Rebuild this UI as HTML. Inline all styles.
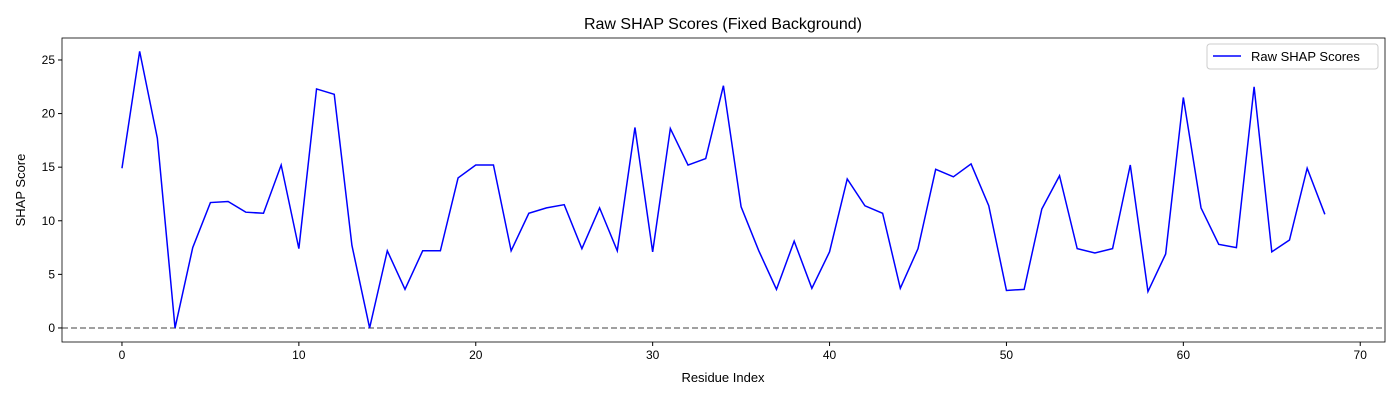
<!DOCTYPE html>
<html><head><meta charset="utf-8"><style>
body{margin:0;background:#fff;font-family:"Liberation Sans",sans-serif;}
</style></head><body>
<svg id="chart" width="1400" height="400" font-family="Liberation Sans, sans-serif"></svg>
<script>
const residueIndex = Array.from({length:69},(_, i)=>i);
const shapScores = [14.9,25.8,17.7,0.0,7.5,11.7,11.8,10.8,10.7,15.2,7.4,22.3,21.8,7.7,0.0,7.2,3.6,7.2,7.2,14.0,15.2,15.2,7.2,10.7,11.2,11.5,7.4,11.2,7.2,18.7,7.1,18.6,15.2,15.8,22.6,11.3,7.2,3.6,8.1,3.7,7.1,13.9,11.4,10.7,3.7,7.4,14.8,14.1,15.3,11.4,3.5,3.6,11.1,14.2,7.4,7.0,7.4,15.2,3.4,6.9,21.5,11.2,7.8,7.5,22.5,7.1,8.2,14.9,10.6];
const xTicks = [0,10,20,30,40,50,60,70];
const yTicks = [0,5,10,15,20,25];

const L=62,R=1385,T=38,B=342;
const xMin=-3.39,xMax=71.4,yMin=-1.31,yMax=27.05;
const sx=v=>L+(v-xMin)/(xMax-xMin)*(R-L);
const sy=v=>B-(v-yMin)/(yMax-yMin)*(B-T);
const svg=document.getElementById('chart');
const NS='http://www.w3.org/2000/svg';
function mk(tag,attrs,text){const e=document.createElementNS(NS,tag);for(const k in attrs)e.setAttribute(k,attrs[k]);if(text!==undefined)e.textContent=text;svg.appendChild(e);return e;}

let t=mk('text',{x:723,y:29,'text-anchor':'middle','font-size':16},'Raw SHAP Scores (Fixed Background)');



let z=mk('line',{x1:L,x2:R,y1:sy(0),y2:sy(0),stroke:'#808080','stroke-width':1.5,'stroke-dasharray':'6,3'});



let d=shapScores.map((v,i)=>(i?'L':'M')+sx(residueIndex[i]).toFixed(2)+','+sy(v).toFixed(2)).join('');
let p=mk('path',{d:d,fill:'none',stroke:'#0000ff','stroke-width':1.5});



let fr=mk('rect',{x:L,y:T,width:R-L,height:B-T,fill:'none',stroke:'#000','stroke-width':0.8});



xTicks.forEach(v=>{const x=sx(v);
 let l=mk('line',{x1:x,x2:x,y1:B,y2:B+4,stroke:'#000'});
 
 
 let tx=mk('text',{x:x,y:B+17,'text-anchor':'middle','font-size':12},v);
 
 
});
yTicks.forEach(v=>{const y=sy(v);
 let l=mk('line',{x1:L-4,x2:L,y1:y,y2:y,stroke:'#000'});
 
 
 let tx=mk('text',{x:L-7,y:y+4,'text-anchor':'end','font-size':12},v);
 
 
});
let xt=mk('text',{x:723,y:382,'text-anchor':'middle','font-size':13},'Residue Index');


let yt=mk('text',{x:25,y:190,'text-anchor':'middle','font-size':13,transform:'rotate(-90 25 190)'},'SHAP Score');



let lg=mk('rect',{x:1207,y:44,width:171,height:25,rx:3,fill:'#fff',stroke:'#ccc'});


let ll=mk('line',{x1:1213,x2:1241,y1:56,y2:56,stroke:'#0000ff','stroke-width':1.5});


let lt=mk('text',{x:1251,y:61,'font-size':13},'Raw SHAP Scores');


</script>
</body></html>
